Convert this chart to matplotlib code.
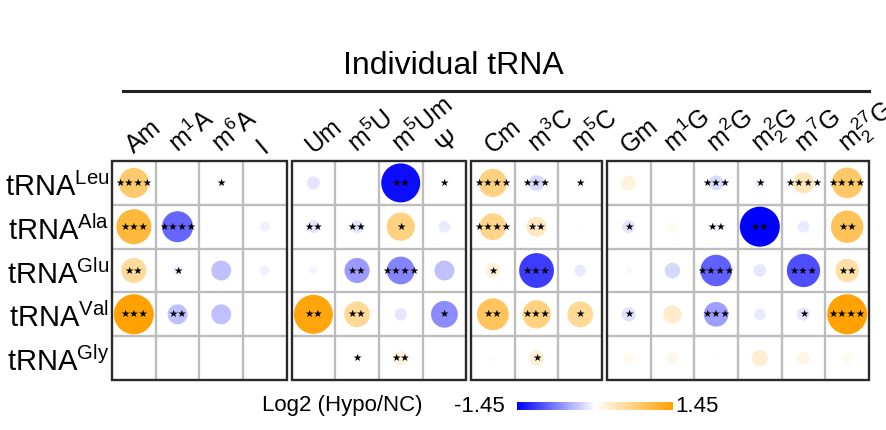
import numpy as np
import matplotlib
matplotlib.use('Agg')
import matplotlib.pyplot as plt
from matplotlib.colors import LinearSegmentedColormap, Normalize
from matplotlib.patches import Rectangle

plt.rcParams['font.family'] = ['Liberation Sans', 'DejaVu Sans']
plt.rcParams['mathtext.fontset'] = 'custom'
plt.rcParams['mathtext.rm'] = 'Liberation Sans'
plt.rcParams['mathtext.it'] = 'Liberation Sans'

# ---- data ----
row_labels = ['Leu', 'Ala', 'Glu', 'Val', 'Gly']
col_labels = ['Am', r'm$^1$A', r'm$^6$A', 'I',
              'Um', r'm$^5$U', r'm$^5$Um', 'Ψ',
              'Cm', r'm$^3$C', r'm$^5$C',
              'Gm', r'm$^1$G', r'm$^2$G', r'm$^2_2$G', r'm$^7$G', r'm$^2_2$$^7$G']
block_sizes = [4, 4, 3, 6]

val_leu = [0.82, 0.0, 0.05, 0.0, -0.15, 0.0, -1.38, 0.02, 0.72, -0.22, 0.0, 0.2, 0.0, -0.2, -0.08, 0.4, 0.85]
val_ala = [1.11, -0.87, 0.0, -0.09, -0.15, -0.15, 0.72, -0.12, 0.65, 0.36, 0.02, -0.15, 0.08, -0.05, -1.45, -0.12, 0.95]
val_glu = [0.57, -0.08, -0.36, -0.09, -0.06, -0.57, -0.7, -0.36, 0.2, -1.1, -0.12, -0.04, -0.22, -0.9, -0.14, -1.0, 0.5]
val_val = [1.45, -0.36, -0.36, 0.0, 1.38, 0.6, -0.14, -0.65, 0.92, 0.72, 0.6, -0.18, 0.3, -0.55, -0.12, -0.15, 1.45]
val_gly = [0.01, 0.01, 0.01, 0.01, 0.01, 0.0, 0.2, 0.01, 0.05, 0.22, 0.01, 0.1, 0.12, 0.02, 0.25, 0.15, 0.1]

sig_leu = ['****', '', '*', '', '', '', '**', '*', '****', '***', '*', '', '', '***', '*', '****', '****']
sig_ala = ['***', '****', '', '', '**', '**', '*', '', '****', '**', '', '*', '', '**', '**', '', '**']
sig_glu = ['**', '*', '', '', '', '**', '****', '', '*', '***', '', '', '', '****', '', '***', '**']
sig_val = ['***', '**', '', '', '**', '**', '', '*', '**', '***', '*', '*', '', '***', '', '*', '****']
sig_gly = ['', '', '', '', '', '*', '**', '', '', '*', '', '', '', '', '', '', '']

values = np.array([val_leu, val_ala, val_glu, val_val, val_gly])
sigs = [sig_leu, sig_ala, sig_glu, sig_val, sig_gly]
vmax = 1.45

cmap = LinearSegmentedColormap.from_list('bwo', ['#0000ff', '#ffffff', '#ffa200'])
norm = Normalize(-vmax, vmax)

# ---- layout ----
gap = 0.11
xpos = []
block_edges = []
x0 = 0.0
for n in block_sizes:
    block_edges.append((x0, n))
    xpos += [x0 + i + 0.5 for i in range(n)]
    x0 += n + gap
xmax = x0 - gap

fig = plt.figure(figsize=(8.86, 4.30), dpi=100)
ax = fig.add_axes([112 / 886, 1 - 380 / 430, 757 / 886, 219 / 430])
ax.set_xlim(0, xmax)
ax.set_ylim(5, 0)
ax.axis('off')

# grid lines
for (bx, n) in block_edges:
    for i in range(1, n):
        ax.plot([bx + i, bx + i], [0, 5], color='#bdbdbd', lw=1.7, zorder=1)
    for j in range(1, 5):
        ax.plot([bx, bx + n], [j, j], color='#bdbdbd', lw=1.7, zorder=1)
    ax.add_patch(Rectangle((bx, 0), n, 5, fill=False, ec='#2a2a2a', lw=1.7, zorder=4, clip_on=False))

# circles
max_s = 28.8 ** 2
xx, yy = np.meshgrid(xpos, np.arange(5) + 0.5)
ax.scatter(xx.ravel(), yy.ravel(), s=max_s * np.abs(values.ravel()) / vmax,
           c=values.ravel(), cmap=cmap, norm=norm, lw=0, zorder=2)

# significance stars
for r in range(5):
    for c in range(len(xpos)):
        if sigs[r][c]:
            ax.text(xpos[c], r + 0.5, '★' * len(sigs[r][c]), family='DejaVu Sans',
                    fontsize=7.5, ha='center', va='center', color='black', zorder=3)

# row labels
for r, lab in enumerate(row_labels):
    ax.text(-0.06, r + 0.8, r'tRNA$^{\mathregular{%s}}$' % lab, fontsize=21,
            ha='right', va='baseline', clip_on=False)

# column labels
for c, lab in enumerate(col_labels):
    ax.text(xpos[c] + 0.0, -0.17, lab, fontsize=18, rotation=40, rotation_mode='anchor',
            ha='left', va='baseline', clip_on=False)

# title and line
fig.text(453 / 886, 1 - 66 / 430, 'Individual tRNA', fontsize=23, ha='center', va='center')
fig.add_artist(plt.Line2D([123 / 886, 869 / 886], [1 - 91 / 430, 1 - 91 / 430],
                          color='#222222', lw=2.2))

# colour bar
cax = fig.add_axes([517 / 886, 1 - 410 / 430, 156 / 886, 8 / 430])
grad = np.linspace(-vmax, vmax, 256).reshape(1, -1)
cax.imshow(grad, aspect='auto', cmap=cmap, norm=norm)
cax.axis('off')
ycb = 1 - 406 / 430
fig.text(422 / 886, ycb, 'Log2 (Hypo/NC)', fontsize=16, ha='right', va='center')
fig.text(505 / 886, ycb, '-1.45', fontsize=16, ha='right', va='center')
fig.text(675 / 886, ycb, '1.45', fontsize=16, ha='left', va='center')

fig.savefig('out.png', dpi=100)
